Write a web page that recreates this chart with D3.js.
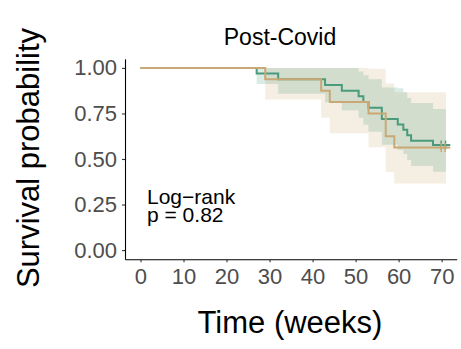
<!DOCTYPE html>
<html>
<head>
<meta charset="utf-8">
<script src="https://cdn.jsdelivr.net/npm/d3@7"></script>
<style>
  body { margin: 0; background: #fff; }
  svg { display: block; font-family: "Liberation Sans", Arial, sans-serif; }
</style>
</head>
<body>
<svg id="km-svg" width="461" height="349"></svg>
<script>
// x axis ticks
const xTicks = [0, 10, 20, 30, 40, 50, 60, 70]
const yTicks = [0, 0.25, 0.5, 0.75, 1]

// tan group
const tanTimes = [0, 29, 42, 44, 53, 57, 59]
const tanSurv = [1, 0.9375, 0.875, 0.8125, 0.75, 0.625, 0.5625]
const tanUpper = [1, 1, 1, 1, 0.995, 0.914, 0.866]
const tanLower = [1, 0.826, 0.727, 0.642, 0.565, 0.428, 0.365]
const tanCensor = [69.9, 70.8]

// green group
const greenTimes = [0, 27, 32, 42.9, 46.8, 50.7, 51.8, 53.0, 56.1, 59.8, 61.1, 62.0, 62.9, 68.0]
const greenSurv = [1, 0.969, 0.938, 0.906, 0.875, 0.844, 0.813, 0.781, 0.72, 0.69, 0.66, 0.63, 0.60, 0.577]
const greenUpper = [1, 1, 1, 1, 1, 0.98, 0.96, 0.938, 0.893, 0.888, 0.866, 0.835, 0.808, 0.774]
const greenLower = [1, 0.912, 0.858, 0.812, 0.768, 0.727, 0.688, 0.65, 0.578, 0.55, 0.527, 0.495, 0.461, 0.43]
const greenCensor = [69.9, 70.9]

const lastTime = 72
const bandEnd = 71

const TAN = '#c9a875'
const GREEN = '#4a9a7c'

const svg = d3.select('#km-svg')

// scales
const x = d3.scaleLinear().domain([-3.6, 73.5]).range([125, 456.7])
const y = d3.scaleLinear().domain([-0.05, 1.05]).range([259.2, 58.8])

function rows(times, surv, upper, lower, endBand, endLine) {
    const r = times.map((t, i) => ({ t, s: surv[i], u: upper[i], l: lower[i] }))
    const last = r[r.length - 1]
    return {
        band: r.concat([{ t: endBand, s: last.s, u: last.u, l: last.l }]),
        line: r.concat([{ t: endLine, s: last.s, u: last.u, l: last.l }])
    }
}

const tan = rows(tanTimes, tanSurv, tanUpper, tanLower, bandEnd, lastTime)
const green = rows(greenTimes, greenSurv, greenUpper, greenLower, bandEnd, lastTime)

const area = d3.area()
    .curve(d3.curveStepAfter)
    .x(d => x(d.t))
    .y0(d => y(d.l))
    .y1(d => y(d.u))

const line = d3.line()
    .curve(d3.curveStepAfter)
    .x(d => x(d.t))
    .y(d => y(d.s))

// confidence bands
svg.append('path').attr('d', area(tan.band)).attr('fill', TAN).attr('fill-opacity', 0.2)
svg.append('path').attr('d', area(green.band)).attr('fill', GREEN).attr('fill-opacity', 0.2)

// survival curves
svg.append('path').attr('d', line(green.line)).attr('fill', 'none')
    .attr('stroke', GREEN).attr('stroke-width', 2)
svg.append('path').attr('d', line(tan.line)).attr('fill', 'none')
    .attr('stroke', TAN).attr('stroke-width', 2)

// censor marks
function censorMarks(times, level, color) {
    svg.selectAll(null)
        .data(times)
        .enter()
        .append('path')
        .attr('d', t => `M${x(t)},${y(level) - 4.5}V${y(level) + 4.5}M${x(t) - 4.5},${y(level)}H${x(t) + 4.5}`)
        .attr('stroke', color)
        .attr('stroke-width', 1.4)
        .attr('fill', 'none')
}
censorMarks(greenCensor, greenSurv[greenSurv.length - 1], GREEN)
censorMarks(tanCensor, tanSurv[tanSurv.length - 1], TAN)

// axes
const xAxis = svg.append('g')
    .attr('transform', `translate(0,${y(-0.05)})`)
    .call(d3.axisBottom(x).tickValues(xTicks).tickSize(3).tickPadding(6).tickSizeOuter(0))
const yAxis = svg.append('g')
    .attr('transform', `translate(${x(-3.6)},0)`)
    .call(d3.axisLeft(y).tickValues(yTicks).tickSize(3).tickPadding(5).tickSizeOuter(0)
        .tickFormat(d3.format('.2f')))

for (const ax of [xAxis, yAxis]) {
    ax.select('.domain').attr('stroke', '#000').attr('stroke-width', 1.1)
    ax.selectAll('.tick line').attr('stroke', '#333').attr('stroke-width', 1.1)
    ax.selectAll('.tick text')
        .attr('fill', '#4d4d4d')
        .style('font-size', '22px')
        .style('font-family', '"Liberation Sans", Arial, sans-serif')
}

// title
svg.append('text')
    .attr('x', 280)
    .attr('y', 45)
    .attr('text-anchor', 'middle')
    .style('font-size', '23px')
    .text('Post-Covid')

// axis titles
svg.append('text')
    .attr('x', 290)
    .attr('y', 333)
    .attr('text-anchor', 'middle')
    .style('font-size', '31px')
    .text('Time (weeks)')

svg.append('text')
    .attr('transform', 'translate(39,158) rotate(-90)')
    .attr('text-anchor', 'middle')
    .style('font-size', '31px')
    .text('Survival probability')

// log-rank annotation
const note = svg.append('text')
    .attr('x', 147)
    .attr('y', 204)
    .style('font-size', '21px')
note.append('tspan').attr('x', 147).text('Log\u2212rank')
note.append('tspan').attr('x', 147).attr('dy', 18).text('p = 0.82')
</script>
</body>
</html>
